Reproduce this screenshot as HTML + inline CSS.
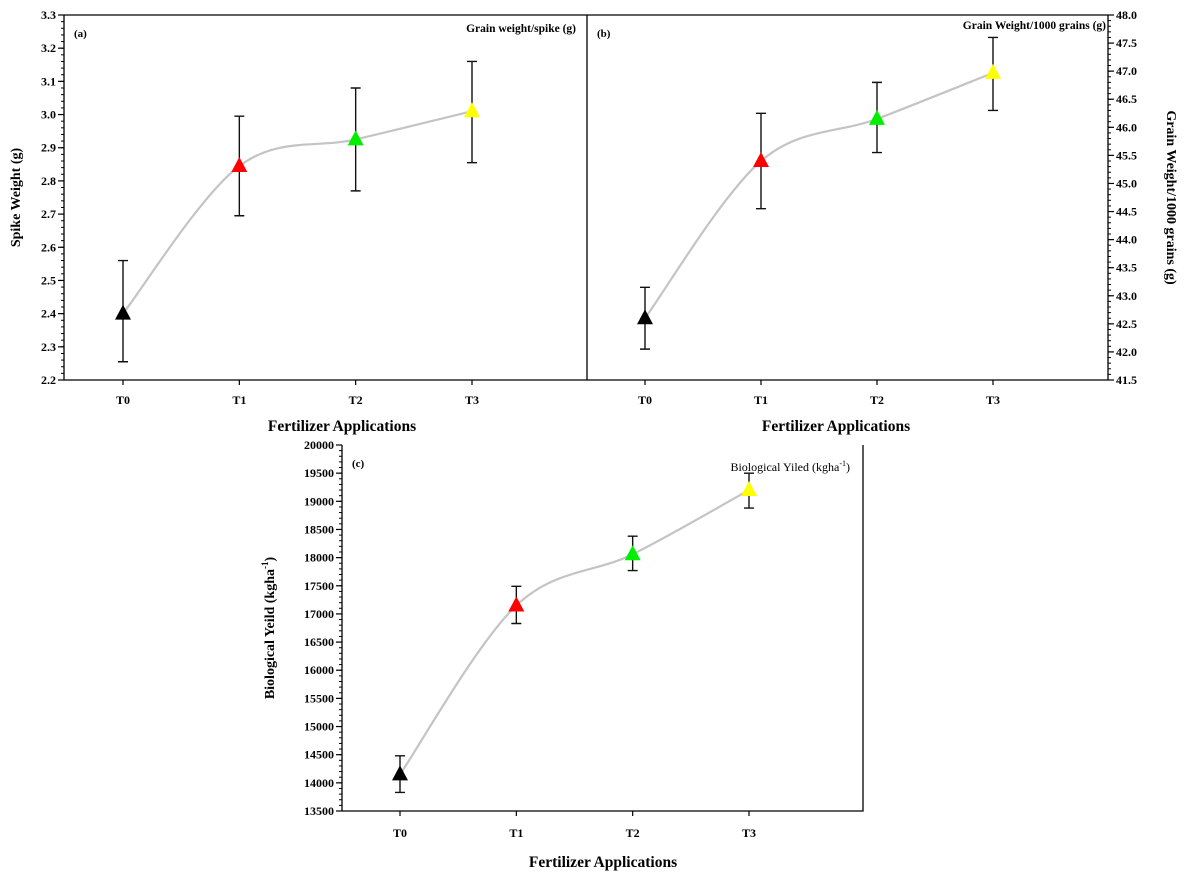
<!DOCTYPE html>
<html><head><meta charset="utf-8"><style>
html,body{margin:0;padding:0;background:#fff;}
svg{display:block;font-family:"Liberation Serif",serif;}
</style></head><body>
<svg id="chart" width="1184" height="876" viewBox="0 0 1184 876"></svg>
<script>
const categories = ["T0","T1","T2","T3"];
const colors = ["#000000","#ff0000","#00ee00","#ffff00"];
const aValues = [2.40, 2.845, 2.925, 3.01];
const aLow = [2.255, 2.695, 2.77, 2.855];
const aHigh = [2.56, 2.995, 3.08, 3.16];
const aTicks = [2.2,2.3,2.4,2.5,2.6,2.7,2.8,2.9,3.0,3.1,3.2,3.3];
const bValues = [42.6, 45.4, 46.15, 46.97];
const bLow = [42.05, 44.55, 45.55, 46.3];
const bHigh = [43.15, 46.25, 46.8, 47.6];
const bTicks = [41.5,42.0,42.5,43.0,43.5,44.0,44.5,45.0,45.5,46.0,46.5,47.0,47.5,48.0];
const cValues = [14150, 17150, 18060, 19200];
const cLow = [13830, 16830, 17770, 18880];
const cHigh = [14480, 17490, 18380, 19500];
const cTicks = [13500,14000,14500,15000,15500,16000,16500,17000,17500,18000,18500,19000,19500,20000];

const NS="http://www.w3.org/2000/svg";
const svg=document.getElementById('chart');
function mk(tag,attrs,parent,text){const e=document.createElementNS(NS,tag);for(const k in attrs)e.setAttribute(k,attrs[k]);if(text!==undefined)e.textContent=text;(parent||svg).appendChild(e);return e;}

function panel(o){
  const g=mk('g',{});
  
  
  const ymin=o.ticks[0], ymax=o.ticks[o.ticks.length-1];
  const y=v=>o.y1+(ymax-v)/(ymax-ymin)*(o.y0-o.y1);
  const x=i=>o.xs[0]+i*(o.xs[1]-o.xs[0])/3;
  const ax=o.axisX, dir=o.right?1:-1;
  const axl=mk('line',{x1:ax,y1:o.y1,x2:ax,y2:o.y0,stroke:'#000','stroke-width':1.3},g);
  
  
  const step=(o.ticks[1]-o.ticks[0])/5;
  for(let v=ymin;v<=ymax+1e-9;v+=step){
    const yy=y(v);
    mk('line',{x1:ax,y1:yy,x2:ax+dir*3,y2:yy,stroke:'#000','stroke-width':1},g);
  }
  o.ticks.forEach(t=>{
    const yy=y(t);
    mk('line',{x1:ax,y1:yy,x2:ax+dir*6,y2:yy,stroke:'#000','stroke-width':1.2},g);
    const tl=mk('text',{x:ax+dir*8,y:yy+4,'font-size':12,'font-weight':'bold','text-anchor':o.right?'start':'end'},g,o.dec?t.toFixed(o.dec):String(t));
    
    
  });
  categories.forEach((c,i)=>{
    const xx=x(i);
    mk('line',{x1:xx,y1:o.y0,x2:xx,y2:o.y0+5,stroke:'#000','stroke-width':1.2},g);
    const t=mk('text',{x:xx,y:o.y0+o.tkDy,'font-size':12,'font-weight':'bold','text-anchor':'middle'},g,c);
    
    
  });
  const pts=o.vals.map((v,i)=>[x(i),y(v)]);
  let d=`M${pts[0][0]},${pts[0][1]}`;
  for(let i=0;i<pts.length-1;i++){
    const p0=pts[Math.max(0,i-1)],p1=pts[i],p2=pts[i+1],p3=pts[Math.min(pts.length-1,i+2)];
    const c1=[p1[0]+(p2[0]-p0[0])/6,p1[1]+(p2[1]-p0[1])/6];
    const c2=[p2[0]-(p3[0]-p1[0])/6,p2[1]-(p3[1]-p1[1])/6];
    d+=` C${c1[0]},${c1[1]} ${c2[0]},${c2[1]} ${p2[0]},${p2[1]}`;
  }
  const ln=mk('path',{d:d,fill:'none',stroke:'#c4c4c4','stroke-width':2.2},g);
  
  
  o.vals.forEach((v,i)=>{
    const xx=x(i),lo=y(o.low[i]),hi=y(o.high[i]);
    const eb=mk('path',{d:`M${xx},${lo}V${hi}M${xx-5},${lo}H${xx+5}M${xx-5},${hi}H${xx+5}`,stroke:'#111','stroke-width':1.4,fill:'none'},g);
    
    
    const yy=y(v);
    const tr=mk('polygon',{points:`${xx},${yy-9} ${xx-8},${yy+6} ${xx+8},${yy+6}`,fill:colors[i]},g);
    
    
  });
  const pl=mk('text',{x:o.panelX,y:o.y1+22,'font-size':11,'font-weight':'bold'},g,o.plabel);
  
  
  const st=mk('text',{x:o.stX,y:o.y1+o.stDy,'font-size':o.stSize,'font-weight':o.stBold?'bold':'normal','text-anchor':'end'},g,o.stitle);
  
  
  if(o.sup){mk('tspan',{'font-size':8,dy:-5},st,'-1');mk('tspan',{dy:5},st,')');}
  const xt=mk('text',{x:o.xtX,y:o.xtY,'font-size':15.5,'font-weight':'bold','text-anchor':'middle'},g,'Fertilizer Applications');
  
  
  const yt=mk('text',{x:0,y:0,'font-size':14,'font-weight':'bold','text-anchor':'middle',transform:`translate(${o.ytX},${(o.y0+o.y1)/2}) rotate(${o.right?90:-90})`},g,o.ytitle);
  
  
  if(o.ysup){mk('tspan',{'font-size':9,dy:-6},yt,'-1');mk('tspan',{dy:6},yt,')');}
}

mk('path',{d:'M64,15H1108M64,380H1108M587,15V380',stroke:'#000','stroke-width':1.3,fill:'none'});

panel({name:'panel-a',ticks:aTicks,dec:1,vals:aValues,low:aLow,high:aHigh,axisX:64,y0:380,y1:15,xs:[123,472],tkDy:24,
  plabel:'(a)',panelX:74,stitle:'Grain weight/spike (g)',stX:576,stDy:17,stSize:11.5,stBold:true,
  xtX:342,xtY:431,ytitle:'Spike Weight (g)',ytX:20});
panel({name:'panel-b',ticks:bTicks,dec:1,vals:bValues,low:bLow,high:bHigh,axisX:1108,right:true,y0:380,y1:15,xs:[645,993],tkDy:24,
  plabel:'(b)',panelX:597,stitle:'Grain Weight/1000 grains (g)',stX:1106,stDy:14,stSize:11.5,stBold:true,
  xtX:836,xtY:431,ytitle:'Grain Weight/1000 grains (g)',ytX:1167});
mk('path',{d:'M342,811H863V445',stroke:'#000','stroke-width':1.3,fill:'none'});
panel({name:'panel-c',ticks:cTicks,dec:0,vals:cValues,low:cLow,high:cHigh,axisX:342,y0:811,y1:445,xs:[400,749],tkDy:26,
  plabel:'(c)',panelX:352,stitle:'Biological Yiled (kgha',sup:true,stX:850,stDy:26,stSize:12,stBold:false,
  xtX:603,xtY:867,ytitle:'Biological Yeild (kgha',ysup:true,ytX:274});
</script>
</body></html>
